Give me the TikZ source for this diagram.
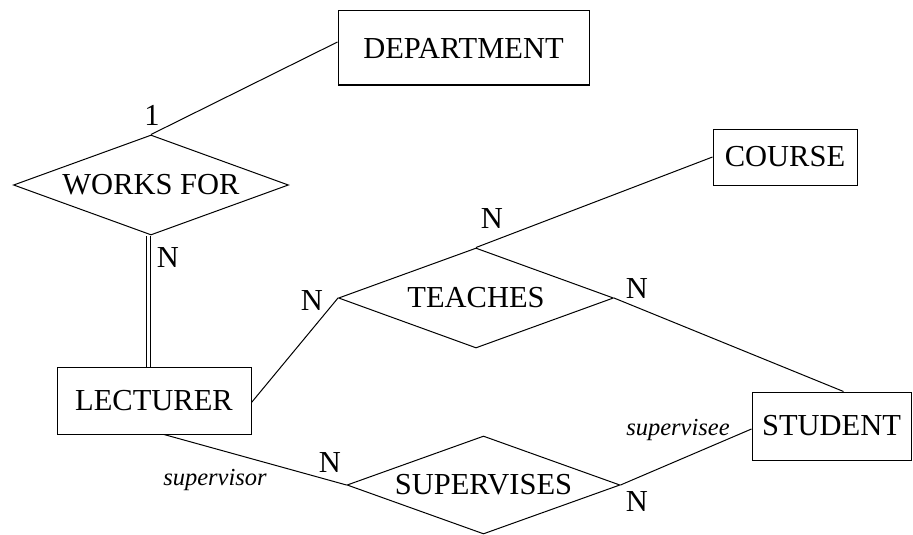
\documentclass[tikz,border=0pt]{standalone}
\usepackage{fontspec}
\setmainfont{Liberation Serif}
\usetikzlibrary{shapes.geometric}
\begin{document}
\begin{tikzpicture}[x=1pt,y=-1pt,
  every node/.style={font=\fontsize{30.5}{35}\selectfont},
  entity/.style={draw, line width=1pt, rectangle, inner sep=0pt},
  rel/.style={draw, line width=1pt, diamond, aspect=2.75, inner sep=0pt, minimum width=275pt, minimum height=100pt},
  conn/.style={line width=1pt},
  card/.style={inner sep=0pt},
  role/.style={inner sep=0pt, font=\fontsize{24.5}{28}\selectfont\itshape}]
\useasboundingbox (0,0) rectangle (913,535);
% entities
\node[entity, minimum width=251pt, minimum height=74pt] (dep) at (463.5,48) {DEPARTMENT};
\node[entity, minimum width=144pt, minimum height=56pt] (course) at (785,157) {COURSE};
\node[entity, minimum width=194pt, minimum height=67pt] (lec) at (154,400.5) {LECTURER};
\node[entity, minimum width=159pt, minimum height=68pt] (stu) at (831.5,426) {STUDENT};
% relationships
\node[rel] (works) at (151,185) {WORKS FOR};
\node[rel] (teaches) at (476,298) {TEACHES};
\node[rel, minimum width=273pt, minimum height=98pt] (sup) at (483.5,485) {SUPERVISES};
% connectors
\draw[conn] ([yshift=6pt]dep.west) -- (works.north);
\draw[line width=1pt, double, double distance=3pt] ([xshift=-3pt]works.south) -- ([xshift=-3pt]lec.north -| works.south);
\draw[conn] (course.west) -- (teaches.north);
\draw[conn] (teaches.east) -- ([xshift=12pt]stu.north);
\draw[conn] ([yshift=-2pt]lec.east) -- (teaches.west);
\draw[conn] ([xshift=10pt]lec.south) -- (sup.west);
\draw[conn] (sup.east) -- ([yshift=-3pt]stu.west);
% labels
\node[card] (c1) at (152,115) {1};
\node[card] (c2) at (168,258) {N};
\node[card] (c3) at (312,301) {N};
\node[card] (c4) at (492,219) {N};
\node[card] (c5) at (637,289) {N};
\node[card] (c6) at (330,463) {N};
\node[card] (c7) at (637,502) {N};
\node[role] (r1) at (215,480) {supervisor};
\node[role] (r2) at (678,430) {supervisee};
\end{tikzpicture}
\end{document}
